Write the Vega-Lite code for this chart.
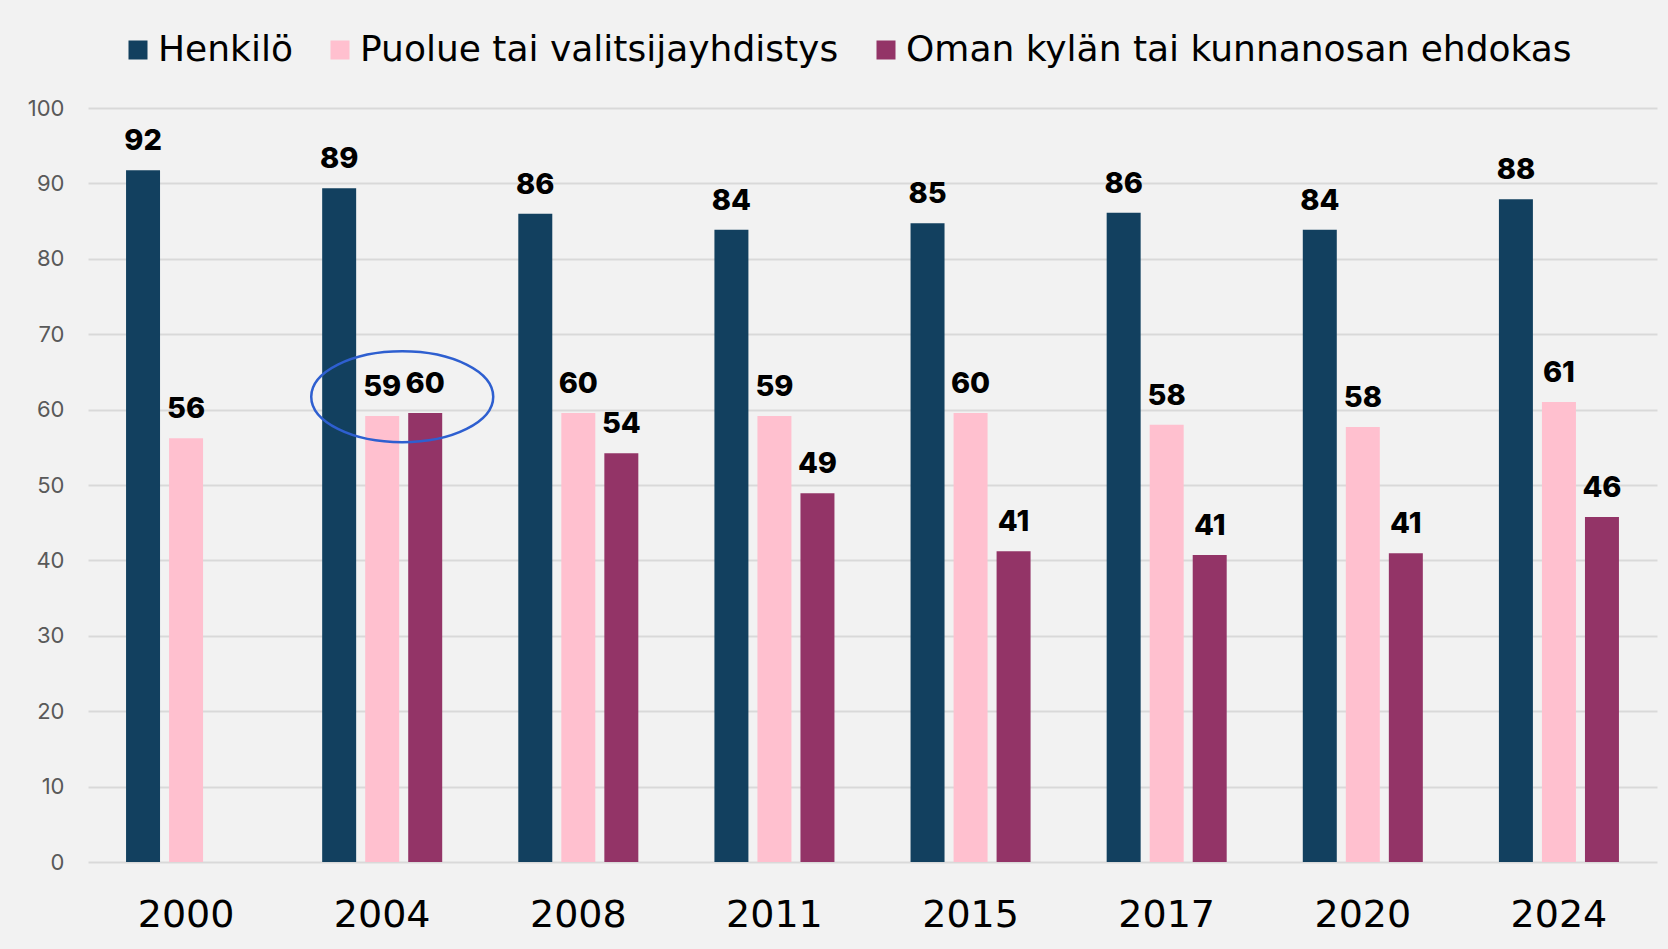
{
  "$schema": "https://vega.github.io/schema/vega-lite/v6.json",
  "width": 1569,
  "height": 754,
  "autosize": {"type": "none"},
  "padding": {"left": 88, "top": 108, "right": 11, "bottom": 87},
  "background": "#f2f2f2",
  "config": {
    "view": {"stroke": null},
    "font": "Inter"
  },
  "datasets": {
    "main": [
      {"year": "2000", "series": "Henkilö", "value": 91.75},
      {"year": "2000", "series": "Puolue tai valitsijayhdistys", "value": 56.2},
      {"year": "2004", "series": "Henkilö", "value": 89.35},
      {"year": "2004", "series": "Puolue tai valitsijayhdistys", "value": 59.15},
      {"year": "2004", "series": "Oman kylän tai kunnanosan ehdokas", "value": 59.55},
      {"year": "2008", "series": "Henkilö", "value": 85.96},
      {"year": "2008", "series": "Puolue tai valitsijayhdistys", "value": 59.55},
      {"year": "2008", "series": "Oman kylän tai kunnanosan ehdokas", "value": 54.2},
      {"year": "2011", "series": "Henkilö", "value": 83.85},
      {"year": "2011", "series": "Puolue tai valitsijayhdistys", "value": 59.15},
      {"year": "2011", "series": "Oman kylän tai kunnanosan ehdokas", "value": 48.9},
      {"year": "2015", "series": "Henkilö", "value": 84.7},
      {"year": "2015", "series": "Puolue tai valitsijayhdistys", "value": 59.55},
      {"year": "2015", "series": "Oman kylän tai kunnanosan ehdokas", "value": 41.2},
      {"year": "2017", "series": "Henkilö", "value": 86.1},
      {"year": "2017", "series": "Puolue tai valitsijayhdistys", "value": 58.0},
      {"year": "2017", "series": "Oman kylän tai kunnanosan ehdokas", "value": 40.7},
      {"year": "2020", "series": "Henkilö", "value": 83.85},
      {"year": "2020", "series": "Puolue tai valitsijayhdistys", "value": 57.7},
      {"year": "2020", "series": "Oman kylän tai kunnanosan ehdokas", "value": 40.95},
      {"year": "2024", "series": "Henkilö", "value": 87.9},
      {"year": "2024", "series": "Puolue tai valitsijayhdistys", "value": 61.0},
      {"year": "2024", "series": "Oman kylän tai kunnanosan ehdokas", "value": 45.75}
    ],
    "marker": [
      {"year": "2004", "value": 61.7}
    ]
  },
  "layer": [
    {
      "data": {"name": "main"},
      "mark": {"type": "bar"},
      "encoding": {
        "x": {
          "field": "year", "type": "nominal",
          "scale": {"paddingInner": 0.388, "paddingOuter": 0.194},
          "axis": {
            "title": null, "labelAngle": 0, "ticks": false, "domain": false, "grid": false,
            "labelFont": "DejaVu Sans",
            "labelFontSize": 38, "labelColor": "#000000", "labelPadding": 34
          }
        },
        "xOffset": {
          "field": "series", "type": "nominal",
          "sort": ["Henkilö", "Puolue tai valitsijayhdistys", "Oman kylän tai kunnanosan ehdokas"],
          "scale": {"paddingInner": 0.21, "paddingOuter": 0}
        },
        "y": {
          "field": "value", "type": "quantitative",
          "scale": {"domain": [0, 100], "nice": false},
          "axis": {
            "title": null, "values": [0, 10, 20, 30, 40, 50, 60, 70, 80, 90, 100],
            "ticks": false, "domain": false, "grid": true,
            "gridColor": "#d9d9d9", "gridWidth": 2,
            "labelFont": "Inter", "labelFontSize": 22, "labelColor": "#595959", "labelPadding": 24
          }
        },
        "color": {
          "field": "series", "type": "nominal",
          "scale": {
            "domain": ["Henkilö", "Puolue tai valitsijayhdistys", "Oman kylän tai kunnanosan ehdokas"],
            "range": ["#12405f", "#ffc0cf", "#933467"]
          },
          "legend": {
            "title": null, "orient": "none", "direction": "horizontal",
            "legendX": 32, "legendY": -76,
            "symbolType": "square", "symbolSize": 361, "symbolStrokeWidth": 0, "symbolOpacity": 1,
            "labelFont": "DejaVu Sans",
            "labelFontSize": 36, "labelColor": "#000000", "labelOffset": 2,
            "columnPadding": 29, "labelLimit": 1000
          }
        }
      }
    },
    {
      "data": {"name": "main"},
      "mark": {"type": "text", "font": "Inter", "fontSize": 29, "fontWeight": 800, "color": "#000000", "baseline": "alphabetic", "dy": -20},
      "encoding": {
        "x": {"field": "year", "type": "nominal"},
        "xOffset": {"field": "series", "type": "nominal", "sort": ["Henkilö", "Puolue tai valitsijayhdistys", "Oman kylän tai kunnanosan ehdokas"]},
        "y": {"field": "value", "type": "quantitative"},
        "text": {"field": "value", "type": "quantitative", "format": ".0f"}
      }
    },
    {
      "data": {"name": "marker"},
      "mark": {
        "type": "point",
        "shape": "M -1 0 A 1 0.5 0 1 1 1 0 A 1 0.5 0 1 1 -1 0 Z",
        "size": 33124, "filled": false, "stroke": "#2e5fd0", "strokeWidth": 2.5, "opacity": 1
      },
      "encoding": {
        "x": {"field": "year", "type": "nominal", "bandPosition": 0.667},
        "y": {"field": "value", "type": "quantitative"}
      }
    }
  ]
}
